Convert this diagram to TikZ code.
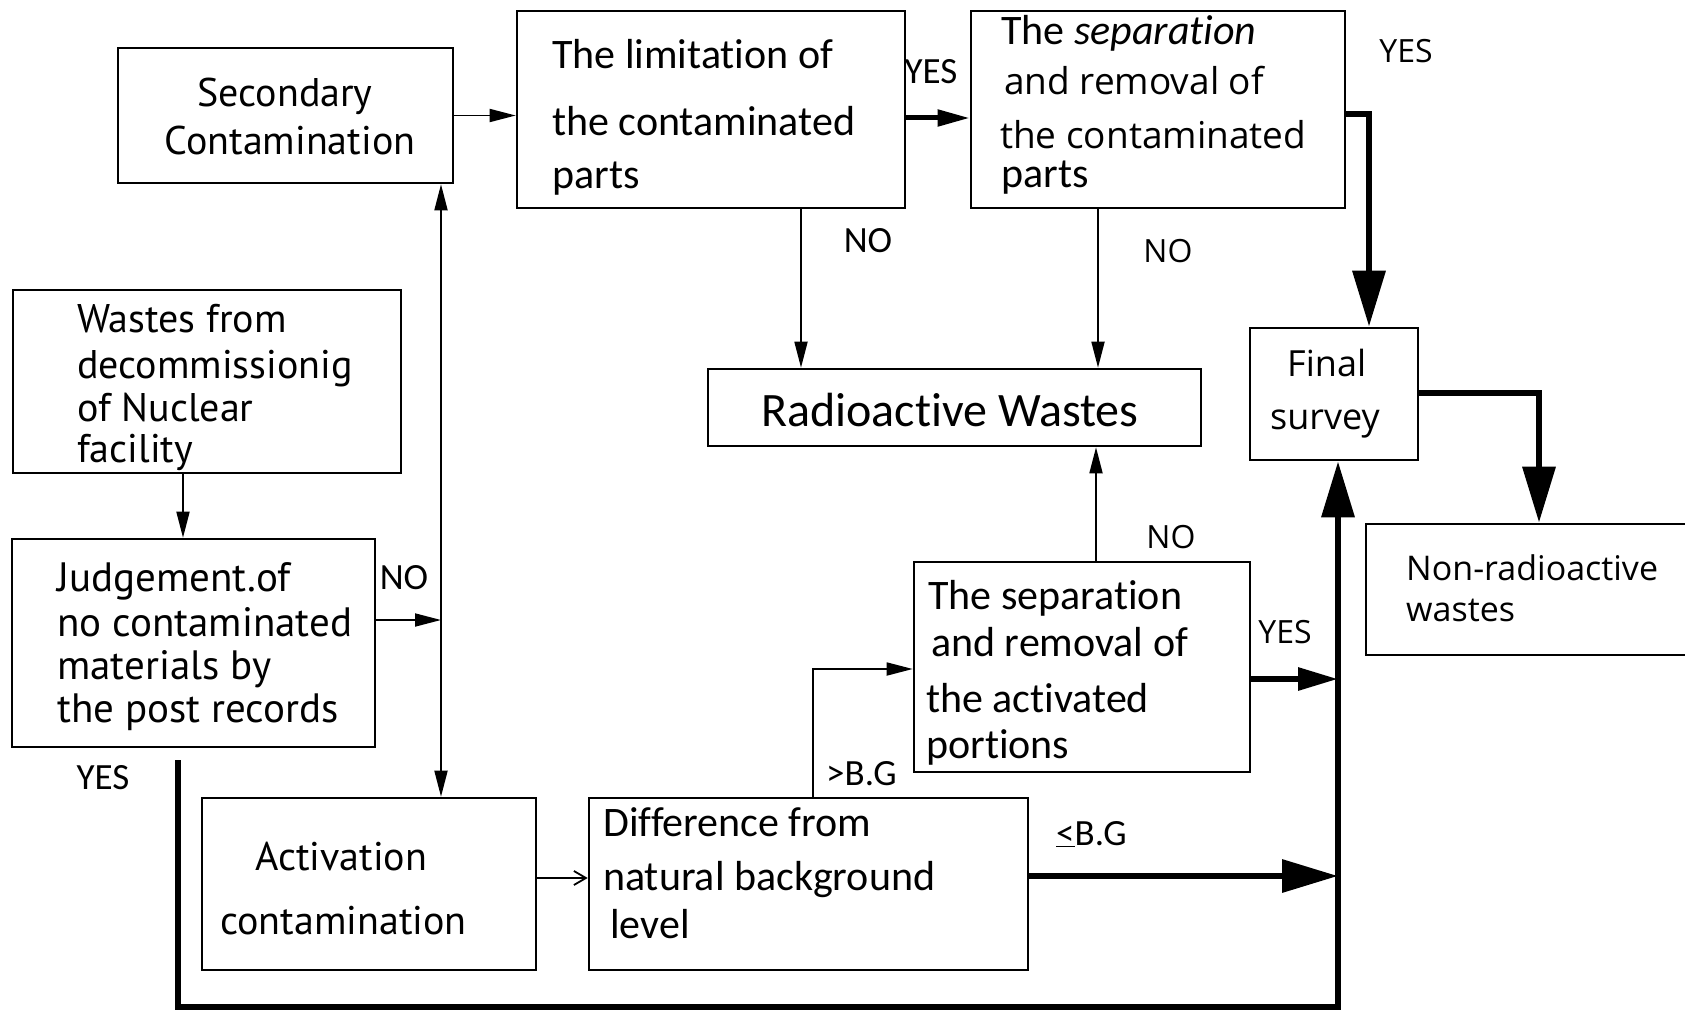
\documentclass[tikz,border=0pt]{standalone}
\usepackage{fontspec}
\setmainfont{Carlito}[Ligatures=NoCommon]
\newfontfamily\fb{PT Sans}
\newfontfamily\fc{Open Sans}
\usetikzlibrary{arrows.meta}
\begin{document}
\begin{tikzpicture}[x=1pt,y=-1pt,
  box/.style={draw, line width=2.6pt, inner sep=0pt, rectangle},
  txt/.style={inner sep=0pt, anchor=base west},
  ctxt/.style={inner sep=0pt, anchor=base},
  ca/.style={font=\fontsize{42}{50}\selectfont},
  cl/.style={font=\fontsize{37}{42}\selectfont},
  pb/.style={font=\fb\fontsize{40}{48}\selectfont},
  oc/.style={font=\fc\fontsize{#1}{#1}\selectfont},
  ln/.style={line width=1.8pt},
  tarr/.style={ln, -{Triangle[length=26pt,width=13pt]}},
  oarr/.style={ln, -{Straight Barb[length=12pt,width=14pt]}},
  marr/.style={line width=5pt, -{Triangle[length=32pt,width=16pt]}},
  sarr/.style={line width=6pt, -{Triangle[length=40pt,width=22pt]}},
  barr/.style={line width=6.5pt, -{Triangle[length=56pt,width=32pt]}},
  thk/.style={line width=6.5pt}
]
\clip (0,0) rectangle (1685,1011);
\fill[white] (0,0) rectangle (1685,1011);

% boxes
\node[box, minimum width=335pt, minimum height=135pt] (sec) at (285.5,115.5) {};
\node[box, minimum width=388pt, minimum height=197pt] (lim) at (711,109.5) {};
\node[box, minimum width=374pt, minimum height=197pt] (sep) at (1158,109.5) {};
\node[box, minimum width=388pt, minimum height=183pt] (wst) at (207,381.5) {};
\node[box, minimum width=363pt, minimum height=208pt] (jud) at (193.5,643) {};
\node[box, minimum width=493pt, minimum height=77pt] (rad) at (954.5,407.5) {};
\node[box, minimum width=168pt, minimum height=132pt] (fin) at (1334,394) {};
\node[box, minimum width=334pt, minimum height=131pt] (non) at (1533,589.5) {};
\node[box, minimum width=336pt, minimum height=210pt] (sepa) at (1082,667) {};
\node[box, minimum width=334pt, minimum height=172pt] (act) at (369,884) {};
\node[box, minimum width=439pt, minimum height=172pt] (dif) at (808.5,884) {};

% texts
\node[ctxt, pb] (s1) at (285,107) {Secondary};
\node[ctxt, pb] (s2) at (290,155) {Contamination};

\node[txt, ca] (l1) at (552,69) {The limitation of};
\node[txt, ca] (l2) at (552,136) {the contaminated};
\node[txt, ca] (l3) at (552,189) {parts};

\node[txt, ca] (p1) at (1001,45) {The \textit{separation}};
\node[txt, oc=37] (p2) at (1004,95) {and removal of};
\node[txt, oc=37] (p3) at (1000,149) {the contaminated};
\node[txt, ca] (p4) at (1001,188) {parts};

\node[txt, pb] (w1) at (77,332) {Wastes from};
\node[txt, pb] (w2) at (77,378) {decommissionig};
\node[txt, pb] (w3) at (77,421) {of Nuclear};
\node[txt, pb] (w4) at (77,462) {facility};

\node[txt, font=\fb\fontsize{41}{48}\selectfont] (j1) at (57,591) {Judgement.of};
\node[txt, font=\fb\fontsize{41}{48}\selectfont] (j2) at (57,636) {no contaminated};
\node[txt, font=\fb\fontsize{41}{48}\selectfont] (j3) at (57,679) {materials by};
\node[txt, font=\fb\fontsize{41}{48}\selectfont] (j4) at (57,722) {the post records};

\node[txt, font=\fontsize{48}{52}\selectfont] (r1) at (761,426) {Radioactive Wastes};

\node[txt, oc=36] (f1) at (1287,376) {Final};
\node[txt, oc=36] (f2) at (1270,429) {survey};

\node[txt, oc=34] (n1) at (1406,580) {Non-radioactive};
\node[txt, oc=34] (n2) at (1406,621) {wastes};

\node[txt, ca] (a1) at (928,609) {The separation};
\node[txt, ca] (a2) at (931,656) {and removal of};
\node[txt, ca] (a3) at (926,712) {the activated};
\node[txt, ca] (a4) at (926,758) {portions};

\node[txt, pb] (c1) at (255,870) {Activation};
\node[txt, pb] (c2) at (220,934) {contamination};

\node[txt, ca] (d1) at (603,836) {Difference from};
\node[txt, ca] (d2) at (603,890) {natural background};
\node[txt, ca] (d3) at (610,938) {level};

% labels
\node[ctxt, cl] (y1) at (931,84) {YES};
\node[ctxt, oc=32] (y2) at (1406,63) {YES};
\node[ctxt, cl] (o1) at (868,252) {NO};
\node[ctxt, oc=32] (o2) at (1168,262) {NO};
\node[ctxt, cl] (o3) at (404,589) {NO};
\node[ctxt, cl] (y3) at (103,789) {YES};
\node[ctxt, oc=32] (o4) at (1171,548) {NO};
\node[ctxt, oc=32] (y4) at (1285,643) {YES};
\node[txt, cl] (g1) at (826,785) {>B.G};
\node[txt, cl] (g2) at (1056,845) {\underline{<}B.G};

% free ends
\coordinate (jn) at (441,620);
\coordinate (ra) at (1338,679);
\coordinate (rb) at (1338,876);
\coordinate (ys) at (178,760);
\coordinate (bl) at (178,1007);
\coordinate (br) at (1338,1007);

% connectors
\draw[tarr] (sec.east) -- (lim.west |- sec.east);
\draw[marr] (lim.east |- 0,118) -- (sep.west |- 0,118);
\draw[barr] (sep.east |- 0,114) -| (fin.north -| 1369,0);
\draw[tarr] (lim.south -| 801,0) -- (rad.north -| 801,0);
\draw[tarr] (sep.south -| 1098,0) -- (rad.north -| 1098,0);
\draw[barr] (fin.east |- 0,393) -| (non.north -| 1539,0);
\draw[tarr] (wst.south -| 183,0) -- (jud.north -| 183,0);
\draw[tarr] (jud.east |- jn) -- (jn);
\draw[ln, {Triangle[length=26pt,width=13pt]}-{Triangle[length=26pt,width=13pt]}] (sec.south -| jn) -- (act.north -| jn);
\draw[oarr] (act.east |- 0,878) -- (dif.west |- 0,878);
\draw[tarr] (dif.north -| 813,0) |- (sepa.west |- 0,669);
\draw[tarr] (sepa.north -| 1096,0) -- (rad.south -| 1096,0);
\draw[sarr] (sepa.east |- ra) -- (ra);
\draw[barr] (dif.east |- rb) -- (rb);
\draw[barr] (ys) -- (bl) -- (br) -- (fin.south -| br);
\end{tikzpicture}
\end{document}
